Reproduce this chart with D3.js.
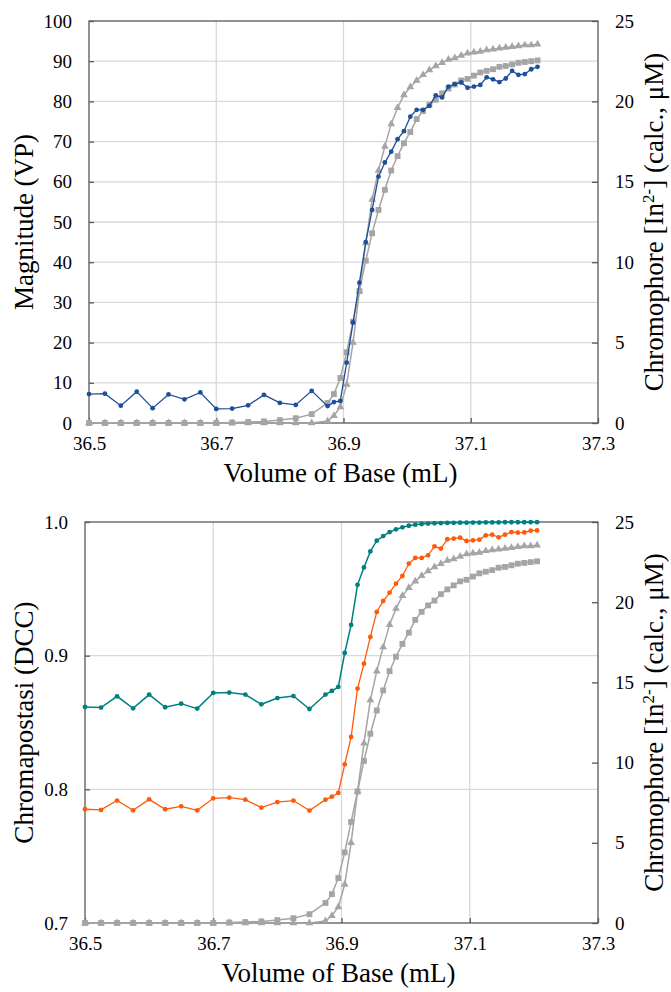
<!DOCTYPE html>
<html>
<head>
<meta charset="utf-8">
<script src="https://cdn.jsdelivr.net/npm/d3@7/dist/d3.min.js"></script>
</head>
<body style="margin:0">
<div id="chart"></div>
<script>
// titrant volume (mL), coarse steps before the end point, fine steps after
var volume = [36.5, 36.525, 36.55, 36.575, 36.6, 36.625, 36.65, 36.675, 36.7, 36.725, 36.75, 36.775, 36.8, 36.825, 36.85,
    36.875, 36.885, 36.895, 36.905, 36.915, 36.925, 36.935, 36.945, 36.955, 36.965, 36.975, 36.985, 36.995, 37.005, 37.015,
    37.025, 37.035, 37.045, 37.055, 37.065, 37.075, 37.085, 37.095, 37.105, 37.115, 37.125, 37.135, 37.145, 37.155, 37.165,
    37.175, 37.185, 37.195, 37.205];

// top panel, left axis
var magnitudeVP = [7.2, 7.3, 4.3, 7.8, 3.7, 7.1, 5.9, 7.6, 3.5, 3.6, 4.4, 7.0, 5.0, 4.5, 8.0,
    4.2, 5.2, 5.5, 15, 25, 34.9, 45, 53.0, 61.3, 64.8, 67.5, 70.6, 72.6, 76.2, 77.9,
    77.9, 78.9, 81.5, 81.0, 83.7, 84.3, 84.7, 83.4, 83.7, 84.1, 86.0, 85.5, 84.8, 85.7, 87.6,
    86.6, 86.8, 88.0, 88.6];

// chromophore (right axis, both panels)
var chromTriangle = [0, 0, 0, 0, 0, 0, 0, 0, 0, 0, 0, 0, 0, 0, 0,
    0.12, 0.45, 1.0, 2.4, 5.0, 8.2, 11.2, 13.9, 15.7, 17.2, 18.6, 19.6, 20.4, 20.9, 21.3,
    21.65, 21.95, 22.2, 22.4, 22.6, 22.7, 22.85, 23.0, 23.05, 23.1, 23.2, 23.25, 23.3, 23.35, 23.4,
    23.45, 23.5, 23.5, 23.55];
var chromSquare = [0, 0, 0, 0, 0, 0, 0, 0, 0, 0.03, 0.06, 0.1, 0.18, 0.3, 0.55,
    1.25, 1.8, 2.8, 4.4, 6.3, 8.2, 10.1, 11.8, 13.25, 14.5, 15.7, 16.6, 17.4, 18.1, 18.9,
    19.4, 19.8, 20.1, 20.5, 20.8, 21.05, 21.3, 21.4, 21.6, 21.8, 21.9, 22.0, 22.15, 22.2, 22.3,
    22.4, 22.45, 22.5, 22.55];

// bottom panel, left axis
var dccTeal = [0.8616, 0.8612, 0.8696, 0.8606, 0.8709, 0.8614, 0.8641, 0.8604, 0.8721, 0.8724, 0.8709, 0.8636, 0.8683, 0.8698, 0.8601,
    0.8709, 0.8736, 0.8766, 0.902, 0.923, 0.953, 0.966, 0.978, 0.986, 0.9895, 0.9925, 0.9945, 0.996, 0.9972, 0.998,
    0.9985, 0.9988, 0.999, 0.9992, 0.9993, 0.9994, 0.9995, 0.9995, 0.9996, 0.9996, 0.9997, 0.9997, 0.9997, 0.9998, 0.9998,
    0.9998, 0.9998, 0.9999, 0.9999];
var dccOrange = [0.7851, 0.7846, 0.7916, 0.7843, 0.7925, 0.7851, 0.7873, 0.7843, 0.7933, 0.7938, 0.7923, 0.7863, 0.7905, 0.7916, 0.7841,
    0.7923, 0.7945, 0.7973, 0.8187, 0.8392, 0.8754, 0.894, 0.914, 0.9327, 0.9409, 0.9472, 0.9539, 0.9596, 0.9689, 0.9731,
    0.9731, 0.9751, 0.9818, 0.9801, 0.9871, 0.9876, 0.9883, 0.9858, 0.9863, 0.9868, 0.99, 0.9905, 0.9885, 0.9905, 0.9925,
    0.992, 0.9922, 0.9935, 0.9937];

var xTicks = [36.5, 36.7, 36.9, 37.1, 37.3];
var magTicks = [0, 10, 20, 30, 40, 50, 60, 70, 80, 90, 100];
var dccTicks = [0.7, 0.8, 0.9, 1.0];
var chromTicks = [0, 5, 10, 15, 20, 25];

var gray = "#a5a5a5";
var frameColor = "#595959";
var gridColor = "#d9d9d9";
var fontFam = "'Liberation Serif', monospace";

var svg = d3.select("#chart").append("svg").attr("width", 671).attr("height", 992)
    .style("font-family", fontFam);

function drawPanel(opt) {
    var width = opt.width, height = opt.height;
    var g = svg.append("g").attr("transform", "translate(" + opt.left + "," + opt.top + ")");

    var x = d3.scaleLinear().domain([36.5, 37.3]).range([0, width]);
    var yL = d3.scaleLinear().domain(opt.yDomain).range([height, 0]);
    var yR = d3.scaleLinear().domain([0, 25]).range([height, 0]);

    // gridlines
    g.selectAll(".vgrid").data(xTicks.slice(1, -1)).enter().append("line")
        .attr("x1", d => x(d)).attr("x2", d => x(d)).attr("y1", 0).attr("y2", height)
        .attr("stroke", gridColor).attr("stroke-width", 1.3);
    g.selectAll(".hgrid").data(opt.yTicks.slice(1, -1)).enter().append("line")
        .attr("x1", 0).attr("x2", width).attr("y1", d => yL(d)).attr("y2", d => yL(d))
        .attr("stroke", gridColor).attr("stroke-width", 1.3);

    // axes
    var xAxis = g.append("g").attr("transform", "translate(0," + height + ")")
        .call(d3.axisBottom(x).tickValues(xTicks).tickFormat(d3.format(".1f")).tickSize(-5).tickPadding(14));
    var lAxis = g.append("g")
        .call(d3.axisLeft(yL).tickValues(opt.yTicks).tickFormat(opt.yFormat).tickSize(-5).tickPadding(17));
    var rAxis = g.append("g").attr("transform", "translate(" + width + ",0)")
        .call(d3.axisRight(yR).tickValues(chromTicks).tickSize(-6).tickPadding(17));
    [xAxis, lAxis, rAxis].forEach(function (a) {
        a.attr("font-family", null).attr("font-size", null);
        a.select(".domain").remove();
        a.selectAll(".tick line").attr("stroke", frameColor).attr("stroke-width", 1.3);
        a.selectAll("text").attr("fill", "#000")
            .style("font-family", fontFam).style("font-size", "19px");
    });

    g.append("rect").attr("width", width).attr("height", height)
        .attr("fill", "none").attr("stroke", frameColor).attr("stroke-width", 1.3);

    // series
    opt.series.forEach(function (s) {
        var y = s.axis === "right" ? yR : yL;
        var pts = volume.map(function (v, i) { return [v, s.values[i]]; });
        var line = d3.line().x(d => x(d[0])).y(d => y(d[1]));
        g.append("path").datum(pts).attr("d", line)
            .attr("fill", "none").attr("stroke", s.color).attr("stroke-width", s.lineWidth);
        if (s.marker === "circle") {
            g.selectAll(null).data(pts).enter().append("circle")
                .attr("cx", d => x(d[0])).attr("cy", d => y(d[1])).attr("r", 2.4)
                .attr("fill", s.color);
        } else {
            var sym = d3.symbol().type(s.marker === "triangle" ? d3.symbolTriangle : d3.symbolSquare)
                .size(s.marker === "triangle" ? 26 : 34);
            g.selectAll(null).data(pts).enter().append("path")
                .attr("transform", d => "translate(" + x(d[0]) + "," + y(d[1]) + ")")
                .attr("d", sym).attr("fill", s.color);
        }
    });

    // titles
    svg.append("text").attr("x", opt.left + width / 2 - 3).attr("y", opt.top + height + 59)
        .attr("text-anchor", "middle").style("font-family", fontFam).style("font-size", "27px")
        .text("Volume of Base (mL)");
    svg.append("text").attr("transform", "translate(33," + (opt.top + height / 2) + ") rotate(-90)")
        .attr("text-anchor", "middle").style("font-family", fontFam).style("font-size", "27px")
        .text(opt.yTitle);
    var rt = svg.append("text").attr("transform", "translate(663," + (opt.top + height / 2) + ") rotate(-90)")
        .attr("text-anchor", "middle").style("font-family", fontFam).style("font-size", "27px");
    rt.append("tspan").text("Chromophore [In");
    rt.append("tspan").attr("baseline-shift", "super").style("font-size", "17px").text("2-");
    rt.append("tspan").text("] (calc., \u03bcM)");
}

drawPanel({
    left: 89, top: 21, width: 509, height: 402,
    yDomain: [0, 100], yTicks: magTicks, yFormat: d3.format("d"),
    yTitle: "Magnitude (VP)",
    series: [
        {values: chromSquare, axis: "right", color: gray, marker: "square", lineWidth: 1.5},
        {values: chromTriangle, axis: "right", color: gray, marker: "triangle", lineWidth: 1.5},
        {values: magnitudeVP, axis: "left", color: "#1f4e9b", marker: "circle", lineWidth: 1.3}
    ]
});

drawPanel({
    left: 85, top: 522, width: 513, height: 401,
    yDomain: [0.7, 1.0], yTicks: dccTicks, yFormat: d3.format(".1f"),
    yTitle: "Chromapostasi (DCC)",
    series: [
        {values: chromSquare, axis: "right", color: gray, marker: "square", lineWidth: 1.5},
        {values: chromTriangle, axis: "right", color: gray, marker: "triangle", lineWidth: 1.5},
        {values: dccTeal, axis: "left", color: "#008080", marker: "circle", lineWidth: 1.5},
        {values: dccOrange, axis: "left", color: "#ff5a0a", marker: "circle", lineWidth: 1.3}
    ]
});
</script>
</body>
</html>
